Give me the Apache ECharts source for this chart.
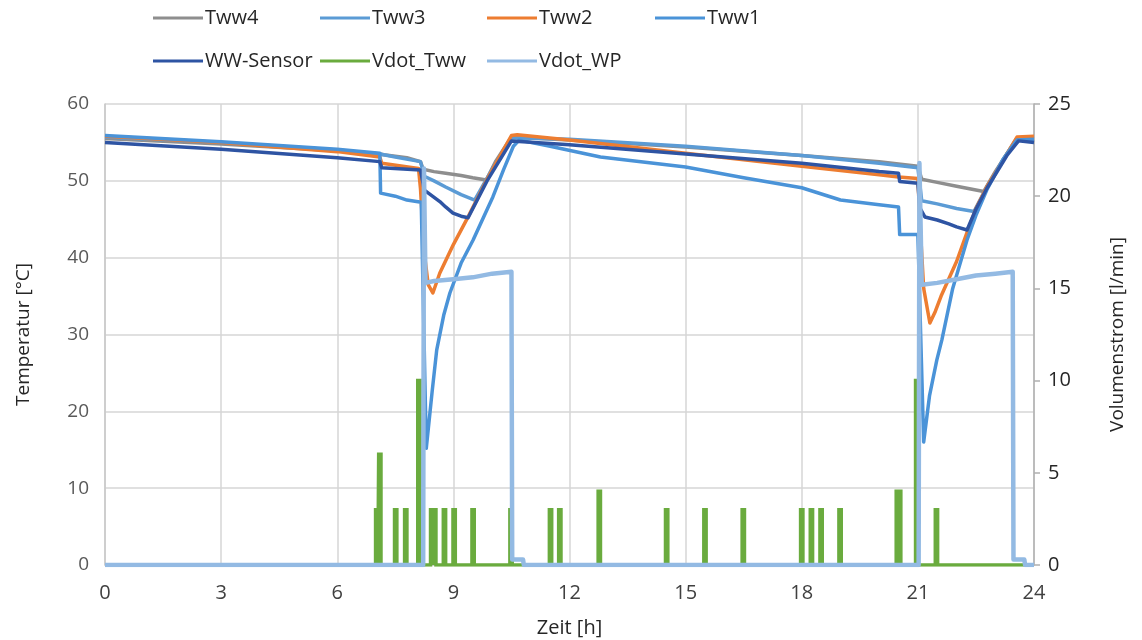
<!DOCTYPE html>
<html>
<head>
<meta charset="utf-8">
<script src="https://cdn.jsdelivr.net/npm/echarts@6/dist/echarts.min.js"></script>
<style>
  html, body { margin: 0; padding: 0; background: #ffffff; }
  #chart { width: 1142px; height: 640px; }
</style>
</head>
<body>
<div id="chart"></div>
<script>
// Storage tank temperatures over one day, plus draw-off and heat-pump flow rates.
// Each temperature series is a list of [hour, °C] samples.
const tww4 = [[0,55.5],[3,54.8],[6,53.9],[7.1,53.5],[7.2,53.4],[7.5,53.2],[7.8,53.0],[8.15,52.5],[8.22,51.5],[8.5,51.2],[8.8,51.0],[9.2,50.7],[9.5,50.4],[9.85,50.1],[10.1,52.6],[10.5,55.7],[12,55.3],[15,54.4],[18,53.3],[20,52.5],[21.0,51.9],[21.1,50.2],[21.5,49.8],[22.0,49.3],[22.7,48.6],[23.0,51.2],[23.55,55.5],[24,55.5]];

const tww3 = [[0,55.7],[3,55.0],[6,54.0],[7.1,53.5],[7.5,53.1],[8.15,52.5],[8.25,50.6],[8.5,50.0],[8.8,49.2],[9.2,48.2],[9.55,47.5],[10.0,51.5],[10.5,55.6],[12,55.4],[15,54.5],[18,53.3],[20,52.3],[21.0,51.7],[21.1,47.4],[21.5,47.0],[22.0,46.4],[22.45,46.0],[22.78,49.2],[23.3,53.5],[23.56,55.5],[24,55.6]];

const tww2 = [[0,55.8],[3,55.0],[6,53.8],[7.1,53.1],[7.15,52.3],[8.1,51.6],[8.15,49.0],[8.25,40.5],[8.35,36.5],[8.47,35.4],[8.65,38.0],[9.0,41.7],[9.38,45.3],[9.87,50.2],[10.5,55.9],[10.65,56.0],[12,55.3],[15,53.6],[18,51.9],[20,50.8],[20.5,50.5],[21.0,50.3],[21.05,45.0],[21.15,36.0],[21.31,31.5],[21.45,33.0],[21.6,35.0],[22.0,39.5],[22.25,43.0],[22.5,46.4],[22.78,49.2],[23.3,53.5],[23.56,55.7],[24,55.8]];

const tww1 = [[0,55.9],[3,55.1],[6,54.1],[7.1,53.6],[7.12,48.4],[7.5,48.0],[7.8,47.5],[8.17,47.2],[8.3,15.2],[8.45,22.5],[8.57,28.0],[8.75,32.5],[8.91,35.4],[9.2,39.3],[9.51,42.3],[9.8,45.5],[10.02,47.9],[10.3,51.5],[10.55,54.5],[10.7,55.3],[11.5,54.5],[12.8,53.1],[15,51.8],[16.5,50.4],[18,49.1],[19,47.5],[20,46.9],[20.5,46.6],[20.53,43.0],[21.0,43.0],[21.15,16.0],[21.3,22.0],[21.49,26.7],[21.62,29.3],[21.9,36.0],[22.27,42.3],[22.5,45.5],[22.78,48.8],[23.2,52.8],[23.56,55.3],[24,55.4]];

const wwSensor = [[0,55.0],[3,54.1],[6,53.0],[7.1,52.5],[7.15,51.7],[8.15,51.4],[8.25,48.8],[8.65,47.3],[8.8,46.6],[8.99,45.8],[9.2,45.4],[9.38,45.2],[9.87,50.0],[10.5,55.2],[12,54.7],[15,53.5],[18,52.3],[20,51.2],[20.5,51.0],[20.53,49.9],[21.0,49.7],[21.05,46.5],[21.18,45.3],[21.5,44.9],[21.8,44.4],[22.0,44.0],[22.27,43.6],[22.5,46.3],[22.78,49.0],[23.3,53.3],[23.6,55.2],[24,55.0]];

// Hot-water draw-off pulses: start hour and flow [l/min]
const drawHours  = [7.02, 7.1, 7.51, 7.77, 8.11, 8.44, 8.52, 8.77, 9.02, 9.51, 10.49, 11.51, 11.75, 12.77, 14.51, 15.5, 16.49, 18.0, 18.25, 18.5, 18.99, 20.47, 20.53, 20.97, 21.48];
const drawFlows  = [3,    6,   3,    3,    10,   3,    3,    3,    3,    3,    3,     3,     3,     4,     3,     3,    3,     3,    3,     3,    3,     4,     4,     10,    3];

// Heat-pump loading flow [hour, l/min]
const vdotWP = [[0,0],[8.22,0],[8.24,21.5],[8.28,15.3],[8.5,15.4],[9.0,15.5],[9.5,15.6],[10.0,15.8],[10.5,15.9],[10.52,0.3],[10.8,0.3],[10.82,0],[21.02,0],[21.04,21.8],[21.1,15.2],[21.5,15.3],[22.0,15.5],[22.5,15.7],[23.0,15.8],[23.45,15.9],[23.47,0.3],[23.75,0.3],[23.77,0],[24,0]];

// Axis ranges and ticks
const hourTicks = { min: 0, max: 24, step: 3 };
const tempTicks = { min: 0, max: 60, step: 10 };
const flowTicks = { min: 0, max: 25, step: 5 };

// Build rectangular pulses from the draw-off list
const pulseHalf = 0.03;
const vdotTww = [[0, 0]];
drawHours.forEach((h, i) => {
  vdotTww.push([h - pulseHalf, 0], [h - pulseHalf, drawFlows[i]], [h + pulseHalf, drawFlows[i]], [h + pulseHalf, 0]);
});
vdotTww.push([24, 0]);

const FONT = '"Open Sans", "Noto Sans", sans-serif';

const chart = echarts.init(document.getElementById('chart'), null, { renderer: 'canvas' });

function lineSeries(name, data, color, width, yIndex, join) {
  return {
    name: name,
    type: 'line',
    data: data,
    yAxisIndex: yIndex,
    showSymbol: false,
    symbol: 'none',
    color: color,
    lineStyle: { color: color, width: width, join: join || 'round' },
    emphasis: { disabled: true },
    animation: false
  };
}

function legendItem(name, left, top) {
  return {
    data: [name],
    left: left,
    top: top,
    icon: 'rect',
    itemWidth: 50,
    itemHeight: 3,
    padding: 0,
    itemGap: 0,
    textStyle: { fontFamily: FONT, fontSize: 20, color: '#262626', padding: [0, 0, 0, -3] }
  };
}

const option = {
  backgroundColor: '#ffffff',
  animation: false,
  legend: [
    legendItem('Tww4', 153, 8),
    legendItem('Tww3', 320, 8),
    legendItem('Tww2', 487, 8),
    legendItem('Tww1', 655, 8),
    legendItem('WW-Sensor', 153, 51),
    legendItem('Vdot_Tww', 320, 51),
    legendItem('Vdot_WP', 487, 51)
  ],
  grid: { left: 105, right: 108, top: 104, bottom: 75, containLabel: false, outerBoundsMode: 'none' },
  xAxis: {
    type: 'value',
    min: hourTicks.min,
    max: hourTicks.max,
    interval: hourTicks.step,
    name: 'Zeit [h]',
    nameLocation: 'middle',
    nameGap: 53,
    nameTextStyle: { fontFamily: FONT, fontSize: 20, color: '#262626' },
    axisLine: { show: true, lineStyle: { color: '#d0d0d0', width: 1.5 } },
    axisTick: { show: false },
    axisLabel: { fontFamily: FONT, fontSize: 20, color: '#404040', margin: 18 },
    splitLine: { show: true, lineStyle: { color: '#d6d6d6', width: 1.5 } }
  },
  yAxis: [
    {
      type: 'value',
      min: tempTicks.min,
      max: tempTicks.max,
      interval: tempTicks.step,
      name: 'Temperatur [°C]',
      nameLocation: 'middle',
      nameRotate: 90,
      nameGap: 72,
      nameTextStyle: { fontFamily: FONT, fontSize: 19, color: '#262626' },
      axisLine: { show: true, lineStyle: { color: '#c8c8c8', width: 1.5 } },
      axisTick: { show: false },
      axisLabel: { fontFamily: FONT, fontSize: 19, color: '#595959', margin: 16 },
      splitLine: { show: true, lineStyle: { color: '#d6d6d6', width: 1.5 } }
    },
    {
      type: 'value',
      position: 'right',
      min: flowTicks.min,
      max: flowTicks.max,
      interval: flowTicks.step,
      name: 'Volumenstrom [l/min]',
      nameLocation: 'middle',
      nameRotate: 90,
      nameGap: 74,
      nameTextStyle: { fontFamily: FONT, fontSize: 19, color: '#262626' },
      axisLine: { show: true, lineStyle: { color: '#b0b0b0', width: 1.5 } },
      axisTick: { show: true, inside: false, length: 6, lineStyle: { color: '#b0b0b0', width: 1.5 } },
      axisLabel: { fontFamily: FONT, fontSize: 20, color: '#262626', margin: 14 },
      splitLine: { show: false }
    }
  ],
  series: [
    lineSeries('Tww4', tww4, '#8E8E8E', 3.5, 0),
    lineSeries('Tww3', tww3, '#5B9BD5', 3.5, 0),
    lineSeries('Tww2', tww2, '#ED7D31', 3.5, 0),
    lineSeries('Tww1', tww1, '#4A93D8', 3.5, 0),
    lineSeries('WW-Sensor', wwSensor, '#2E54A3', 3.5, 0),
    lineSeries('Vdot_Tww', vdotTww, '#6AAB3E', 3.5, 1, 'miter'),
    lineSeries('Vdot_WP', vdotWP, '#93BAE3', 4.5, 1)
  ]
};

chart.setOption(option);
</script>
</body>
</html>
